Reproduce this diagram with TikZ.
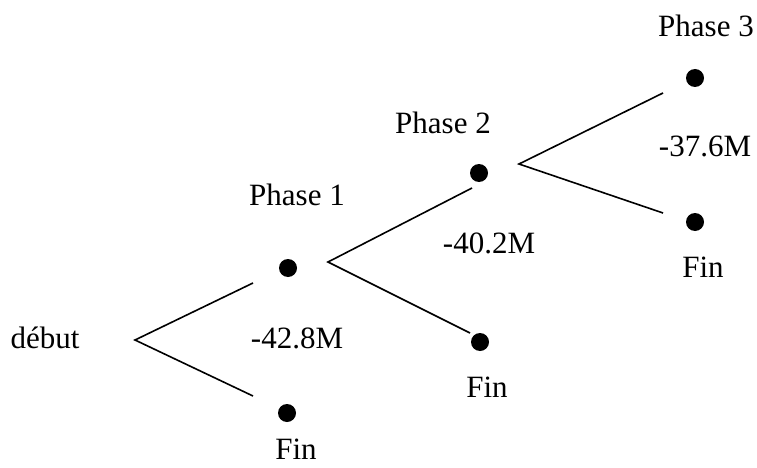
\documentclass[tikz,border=0pt]{standalone}
\usepackage{fontspec}
\setmainfont{Liberation Serif}
\begin{document}
\begin{tikzpicture}[x=1pt,y=-1pt,
  dot/.style={circle,fill=black,draw=none,minimum size=18pt,inner sep=0pt},
  lbl/.style={inner sep=0pt,anchor=base,font=\fontsize{31}{36}\selectfont},
  branch/.style={draw=black,line width=1.6pt}]
\useasboundingbox (0,0) rectangle (757,468);

% state dots
\node[dot] (p1) at (288,268) {};
\node[dot] (f1) at (287,413) {};
\node[dot] (p2) at (479,173) {};
\node[dot] (f2) at (480,342) {};
\node[dot] (p3) at (695,78) {};
\node[dot] (f3) at (695,222) {};

% labels
\node[lbl] (debut) at (45,348) {début};
\node[lbl] (c1) at (297,348) {-42.8M};
\node[lbl] (t1) at (297,205) {Phase 1};
\node[lbl] (e1) at (296,459) {Fin};
\node[lbl] (t2) at (443,133) {Phase 2};
\node[lbl] (c2) at (489,253) {-40.2M};
\node[lbl] (e2) at (487,397) {Fin};
\node[lbl] (t3) at (706,37) {Phase 3};
\node[lbl] (c3) at (705,157) {-37.6M};
\node[lbl] (e3) at (703,277) {Fin};

% fork points and branch ends
\coordinate (a1) at (135,340);
\coordinate (u1) at (253,283);
\coordinate (d1) at (253,396);
\coordinate (a2) at (328,262);
\coordinate (u2) at (472,188);
\coordinate (d2) at (470,333);
\coordinate (a3) at (519,164);
\coordinate (u3) at (663,93);
\coordinate (d3) at (663,213);

% branches
\draw[branch] (u1) -- (a1) -- (d1);
\draw[branch] (u2) -- (a2) -- (d2);
\draw[branch] (u3) -- (a3) -- (d3);
\end{tikzpicture}
\end{document}
